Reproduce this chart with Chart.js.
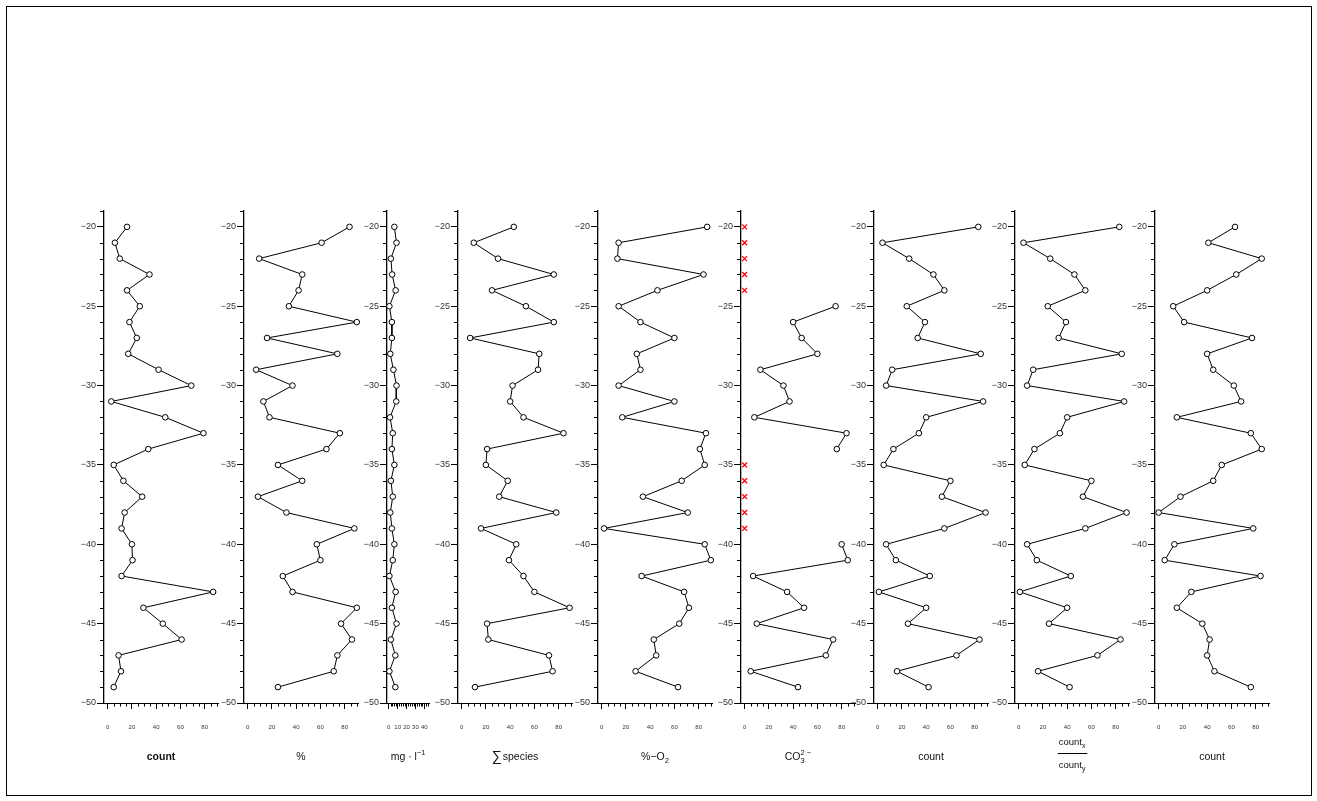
<!DOCTYPE html>
<html>
<head>
<meta charset="utf-8">
<script src="https://cdn.jsdelivr.net/npm/chart.js@4.4.1/dist/chart.umd.min.js"></script>
<style>
  body { margin: 0; background: #fff; }
  #page { position: relative; width: 1317px; height: 801px; overflow: hidden; }
  #frame { position: absolute; left: 6px; top: 6px; width: 1304px; height: 788px; border: 1px solid #000; }
  canvas { position: absolute; }
</style>
</head>
<body>
<div id="page"><div id="frame"></div></div>
<script>
// depth of every sample (y axis)
var depths = [-20, -21, -22, -23, -24, -25, -26, -27, -28, -29,
              -30, -31, -32, -33, -34, -35, -36, -37, -38, -39,
              -40, -41, -42, -43, -44, -45, -46, -47, -48, -49];

var countA = [16, 6, 10, 34.5, 16, 26.5, 18, 24, 17, 42, 69, 3, 47.5, 79, 33.5,
              5, 13, 28.5, 14, 11.5, 20, 20.5, 11.5, 87, 29.5, 45.5, 61, 9, 11, 5];
var percent = [84, 61, 9.5, 45, 42, 34, 90, 16, 74, 7, 37, 13, 18, 76, 65,
               25, 45, 8.5, 32, 88, 57, 60, 29, 37, 90, 77, 86, 74, 71, 25];
var mgPerL = [6.3, 8.7, 2.4, 3.8, 7.7, 0.7, 3.5, 3.5, 1.7, 5.2, 8.7, 8.4, 1.4, 4.5, 3.5,
              6.3, 2.4, 4.5, 1.7, 3.5, 6.3, 4.5, 0.7, 7.7, 3.5, 8.7, 2.4, 7.4, 0.7, 7.4];
var species = [43, 10, 30, 76, 25, 53, 76, 7, 64, 63, 42, 40, 51, 84, 21,
               20, 38, 31, 78, 16, 45, 39, 51, 60, 89, 21, 22, 72, 75, 11];
var oxygen = [87, 14, 13, 84, 46, 14, 32, 60, 29, 32, 14, 60, 17, 86, 81,
              85, 66, 34, 71, 2, 85, 90, 33, 68, 72, 64, 43, 45, 28, 63];
var carbonate = [null, null, null, null, null, 75, 40, 47, 60, 13, 32, 37, 8, 84, 76,
                 null, null, null, null, null, 80, 85, 7, 35, 49, 10, 73, 67, 5, 44];
var countB = [83, 4, 26, 46, 55, 24, 39, 33, 85, 12, 7, 87, 40, 34, 13,
              5, 60, 53, 89, 55, 7, 15, 43, 1, 40, 25, 84, 65, 16, 42];
var countRatio = [83, 4, 26, 46, 55, 24, 39, 33, 85, 12, 7, 87, 40, 34, 13,
                  5, 60, 53, 89, 55, 7, 15, 43, 1, 40, 25, 84, 65, 16, 42];
var countC = [63, 41, 85, 64, 40, 12, 21, 77, 40, 45, 62, 68, 15, 76, 85,
              52, 45, 18, 0, 78, 13, 5, 84, 27, 15, 36, 42, 40, 46, 76];

var xTicksWide = [0, 20, 40, 60, 80];
var xTicksNarrow = [0, 10, 20, 30, 40];
var yTicks = [-50, -45, -40, -35, -30, -25, -20];

var FONT = '"Liberation Sans", Arial, Helvetica, sans-serif';

var panels = [
  { values: countA, title: [{ t: 'count' }], bold: true, left: 104 },
  { values: percent, title: [{ t: '%' }], left: 244 },
  { values: mgPerL, title: [{ t: 'mg \u00b7 l', sup: '\u22121' }], left: 387, narrow: true },
  { values: species, title: [{ t: '\u2211', big: true }, { t: 'species' }], left: 458 },
  { values: oxygen, title: [{ t: '%\u2212O', sub: '2' }], left: 598 },
  { values: carbonate, title: [{ t: 'CO', sub: '3', sup: '2 \u2212' }], left: 741, missing: true },
  { values: countB, title: [{ t: 'count' }], left: 874 },
  { values: countRatio, frac: [[{ t: 'count', sub: 'x' }], [{ t: 'count', sub: 'y' }]], left: 1015 },
  { values: countC, title: [{ t: 'count' }], left: 1155 }
];

function drawParts(ctx, parts, cx, cy, size, bold) {
  var w8 = bold ? 'bold ' : '';
  var small = size * 0.72;
  var total = 0;
  parts.forEach(function(p) {
    ctx.font = w8 + (p.big ? size * 1.35 : size) + 'px ' + FONT;
    p._tw = ctx.measureText(p.t).width;
    var extra = 0;
    ctx.font = w8 + small + 'px ' + FONT;
    if (p.sub) extra = ctx.measureText(p.sub).width;
    if (p.sup) extra = Math.max(extra, ctx.measureText(p.sup).width);
    p._w = p._tw + extra + (p.big ? 1 : 0);
    total += p._w;
  });
  var x = cx - total / 2;
  ctx.textAlign = 'left';
  ctx.textBaseline = 'middle';
  parts.forEach(function(p) {
    ctx.font = w8 + (p.big ? size * 1.35 : size) + 'px ' + FONT;
    ctx.fillText(p.t, x, cy);
    ctx.font = w8 + small + 'px ' + FONT;
    if (p.sub) ctx.fillText(p.sub, x + p._tw, cy + size * 0.38);
    if (p.sup) ctx.fillText(p.sup, x + p._tw, cy - size * 0.42);
    x += p._w;
  });
  return total;
}

var extras = {
  id: 'extras',
  afterDraw: function(chart, args, opts) {
    var ctx = chart.ctx, xs = chart.scales.x, ys = chart.scales.y;
    var area = chart.chartArea;
    ctx.save();
    ctx.strokeStyle = '#000';
    ctx.lineWidth = 1;
    ctx.beginPath();
    for (var v = -49; v <= -19; v++) {
      if (v % 5 === 0) continue;
      var py = Math.round(ys.getPixelForValue(v)) + 0.5;
      ctx.moveTo(area.left - 4, py);
      ctx.lineTo(area.left, py);
    }
    for (var u = 0; u <= opts.xEnd + 0.001; u += opts.xStep) {
      if (opts.majors.indexOf(u) >= 0) continue;
      var px = Math.round(xs.getPixelForValue(u)) + 0.5;
      ctx.moveTo(px, area.bottom);
      ctx.lineTo(px, area.bottom + 3.5);
    }
    ctx.stroke();

    ctx.fillStyle = '#111';
    var cx = (area.left + area.right) / 2;
    if (opts.frac) {
      var cy = area.bottom + 50;
      var w1 = drawParts(ctx, opts.frac[0], cx, cy - 11, 9.5, false);
      drawParts(ctx, opts.frac[1], cx, cy + 12, 9.5, false);
      ctx.beginPath();
      ctx.moveTo(cx - w1 / 2 - 1, Math.round(cy) + 0.5);
      ctx.lineTo(cx + w1 / 2 + 2, Math.round(cy) + 0.5);
      ctx.stroke();
    } else {
      drawParts(ctx, opts.title, cx, area.bottom + 54, 10.5, opts.bold);
    }
    ctx.restore();
  }
};

var page = document.getElementById('page');

panels.forEach(function(p) {
  var narrow = !!p.narrow;
  var xMin = narrow ? -2 : -3;
  var xMax = narrow ? 45.5 : 91;
  var plotW = narrow ? 45 : 114;
  var yAxisW = 30, padRight = 12, top = 190, height = 600;

  var canvas = document.createElement('canvas');
  canvas.width = yAxisW + plotW + padRight;
  canvas.height = height;
  canvas.style.left = (p.left - yAxisW) + 'px';
  canvas.style.top = top + 'px';
  canvas.style.width = canvas.width + 'px';
  canvas.style.height = height + 'px';
  page.appendChild(canvas);

  var pts = [], gaps = [];
  for (var i = 0; i < depths.length; i++) {
    pts.push({ x: p.values[i], y: depths[i] });
    if (p.values[i] === null) gaps.push({ x: 0, y: depths[i] });
  }

  var datasets = [{
    data: pts,
    showLine: true,
    spanGaps: false,
    borderColor: '#000',
    borderWidth: 1,
    pointRadius: 2.8,
    pointBackgroundColor: '#fff',
    pointBorderColor: '#000',
    pointBorderWidth: 1,
    clip: false
  }];
  if (p.missing) {
    datasets.push({
      data: gaps,
      showLine: false,
      pointStyle: 'crossRot',
      pointRadius: 3.5,
      pointBorderColor: '#ff0000',
      pointBorderWidth: 1.3,
      clip: false
    });
  }

  var majors = narrow ? xTicksNarrow : xTicksWide;

  new Chart(canvas.getContext('2d'), {
    type: 'scatter',
    data: { datasets: datasets },
    plugins: [extras],
    options: {
      responsive: false,
      animation: false,
      events: [],
      layout: { padding: { left: 0, right: padRight, top: 21, bottom: 0 } },
      plugins: {
        legend: { display: false },
        tooltip: { enabled: false },
        extras: { xStep: narrow ? 2 : 5, xEnd: narrow ? 44 : 90, majors: majors,
                  title: p.title, frac: p.frac, bold: p.bold }
      },
      scales: {
        x: {
          type: 'linear',
          min: xMin,
          max: xMax,
          afterBuildTicks: function(s) { s.ticks = majors.map(function(v) { return { value: v }; }); },
          afterFit: function(s) { s.height = 87; },
          border: { display: true, color: '#000', width: 1 },
          grid: { drawOnChartArea: false, drawTicks: true, tickLength: 6, color: '#000' },
          ticks: { font: { family: FONT, size: 6 }, color: '#333', padding: 15, maxRotation: 0, autoSkip: false }
        },
        y: {
          type: 'linear',
          min: -50,
          max: -19,
          afterBuildTicks: function(s) { s.ticks = yTicks.map(function(v) { return { value: v }; }); },
          afterFit: function(s) { s.width = yAxisW; },
          border: { display: true, color: '#000', width: 1.3 },
          grid: { drawOnChartArea: false, drawTicks: true, tickLength: 7, color: '#000' },
          ticks: {
            font: { family: FONT, size: 9 }, color: '#333', padding: 1, autoSkip: false,
            callback: function(v) { return (v < 0 ? '\u2212' : '') + Math.abs(v); }
          }
        }
      }
    }
  });
});
</script>
</body>
</html>
